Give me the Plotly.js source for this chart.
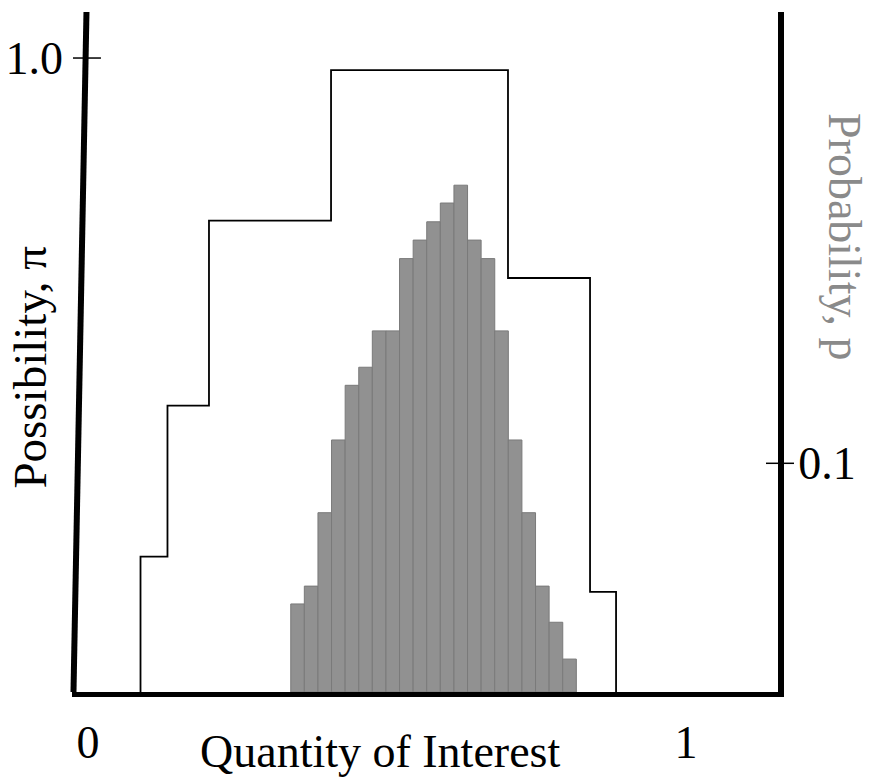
<!DOCTYPE html>
<html>
<head>
<meta charset="utf-8">
<script src="https://cdn.plot.ly/plotly-3.0.1.min.js"></script>
<style>html,body{margin:0;padding:0;background:#fff;}</style>
</head>
<body>
<div id="chart" style="width:869px;height:782px;"></div>
<script>
// Probability histogram (right axis): bin centres on the quantity axis and bar heights
const binCenters = [0.3504, 0.3731, 0.3959, 0.4186, 0.4414, 0.4641, 0.4868, 0.5096, 0.5323, 0.5551, 0.5778,
                    0.6005, 0.6233, 0.6460, 0.6688, 0.6915, 0.7142, 0.7370, 0.7597, 0.7825, 0.8052];
const binWidth = 0.02274;
const probValues = [0.0385, 0.0463, 0.0784, 0.1102, 0.1341, 0.1420, 0.1579, 0.1579, 0.1895, 0.1976, 0.2056,
                    0.2138, 0.2216, 0.1976, 0.1895, 0.1579, 0.1102, 0.0784, 0.0463, 0.0305, 0.0144];

// Possibility distribution (left axis): step edges and levels
const possEdges  = [0.0878, 0.1329, 0.2023, 0.4064, 0.7023, 0.8395, 0.8830];
const possLevels = [0.2134, 0.4516, 0.7434, 0.9810, 0.6530, 0.1580];

// Tick labels and titles
const xTickVals = [0, 1];
const xTickText = ['0', '1'];
const yTickVals = [1.0];
const yTickText = ['1.0'];
const y2TickVals = [0.1];
const y2TickText = ['0.1'];
const xTitle = 'Quantity of Interest';
const yTitle = 'Possibility, π';
const y2Title = 'Probability, p';

const FONT = 'Liberation Serif, Times New Roman, serif';

// step polyline built from edges and levels
const stepX = [possEdges[0]];
const stepY = [0];
for (let i = 0; i < possLevels.length; i++) { stepX.push(possEdges[i]); stepY.push(possLevels[i]); }
stepX.push(possEdges[possEdges.length - 1]); stepY.push(0);

const traces = [
  {
    type: 'bar', x: binCenters, y: probValues, width: binWidth, yaxis: 'y2',
    marker: {color: '#919191', line: {color: '#7a7a7a', width: 1}},
    hoverinfo: 'skip', showlegend: false
  },
  {
    type: 'scatter', mode: 'lines', x: stepX, y: stepY, yaxis: 'y',
    line: {color: '#000', width: 1.8, shape: 'hv'},
    hoverinfo: 'skip', showlegend: false
  }
];

const layout = {
  width: 869, height: 782,
  margin: {l: 72, r: 91, t: 12, b: 90, pad: 0},
  paper_bgcolor: '#fff', plot_bgcolor: '#fff',
  showlegend: false,
  bargap: 0,
  font: {family: FONT, color: '#000'},
  xaxis: {
    range: [-0.02676, 1.1538], showgrid: false, zeroline: false,
    showline: true, linewidth: 5, linecolor: '#000',
    tickmode: 'array', tickvals: xTickVals, ticktext: xTickText, ticks: '',
    tickfont: {family: FONT, size: 46, color: '#000'}, ticklabelstandoff: 6,
    fixedrange: true
  },
  yaxis: {
    range: [0, 1.0726], showgrid: false, zeroline: false, showline: false,
    tickmode: 'array', tickvals: yTickVals, ticktext: yTickText, ticks: '',
    tickfont: {family: FONT, size: 46, color: '#000'}, ticklabelstandoff: 8,
    fixedrange: true
  },
  yaxis2: {
    overlaying: 'y', side: 'right',
    range: [0, 0.29733], showgrid: false, zeroline: false,
    showline: true, linewidth: 6, linecolor: '#000',
    tickmode: 'array', tickvals: y2TickVals, ticktext: y2TickText, ticks: '',
    tickfont: {family: FONT, size: 46, color: '#000'}, ticklabelstandoff: 5,
    fixedrange: true
  },
  shapes: [
    // slanted left axis line
    {type: 'line', xref: 'paper', yref: 'paper', x0: 0.0021, y0: 0, x1: 0.0205, y1: 1,
     line: {color: '#000', width: 6}},
    // left tick crossing the axis at 1.0
    {type: 'line', xref: 'paper', yref: 'y', x0: 0.0014, x1: 0.041, y0: yTickVals[0], y1: yTickVals[0],
     line: {color: '#000', width: 1.5}},
    // right tick crossing the axis at 0.1
    {type: 'line', xref: 'paper', yref: 'y2', x0: 0.983, x1: 1.0227, y0: y2TickVals[0], y1: y2TickVals[0],
     line: {color: '#000', width: 1.5}}
  ],
  annotations: [
    {text: xTitle, xref: 'paper', yref: 'paper', x: 0.4363, y: -0.087,
     xanchor: 'center', yanchor: 'middle', showarrow: false,
     font: {family: FONT, size: 46, color: '#000'}},
    {text: yTitle, xref: 'paper', yref: 'paper', x: -0.06, y: 0.478, textangle: -90,
     xanchor: 'center', yanchor: 'middle', showarrow: false,
     font: {family: FONT, size: 47, color: '#000'}},
    {text: y2Title, xref: 'paper', yref: 'paper', x: 1.0935, y: 0.6706, textangle: 90,
     xanchor: 'center', yanchor: 'middle', showarrow: false,
     font: {family: FONT, size: 46, color: '#8a8a8a'}}
  ]
};

Plotly.newPlot('chart', traces, layout, {staticPlot: true, displayModeBar: false});
</script>
</body>
</html>
